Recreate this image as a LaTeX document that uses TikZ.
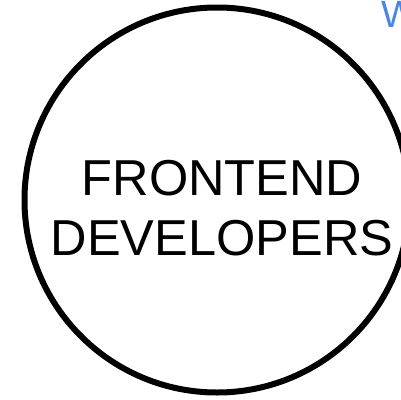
\documentclass[tikz,border=0pt]{standalone}
\usepackage{fontspec}
\setmainfont{Liberation Sans}
\definecolor{titleblue}{RGB}{74,134,232}
\begin{document}
\begin{tikzpicture}[x=1pt,y=-1pt,
  ring/.style={circle,draw=black,line width=6pt,minimum size=385pt,inner sep=0pt},
  label/.style={font=\fontsize{50.5}{60}\selectfont,align=center,inner sep=0pt},
  heading/.style={font=\fontsize{38}{40}\selectfont,text=titleblue,anchor=base west,inner sep=0pt}]
\useasboundingbox (0,0) rectangle (401,399);
\node[ring] (circ) at (217,200) {};
\node[label,anchor=base] (top) at (222,195) {FRONTEND};
\node[label,anchor=base] (bot) at (222,255) {DEVELOPERS};
\node[heading] (w) at (381,27) {W};
\end{tikzpicture}
\end{document}
